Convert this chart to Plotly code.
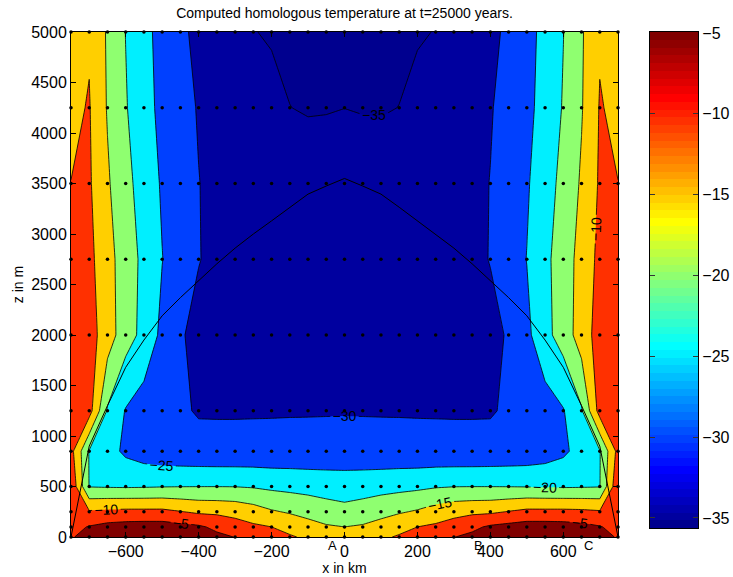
import plotly.graph_objects as go

# ---------------- data ----------------
x_nodes_km = list(range(-750, 751, 50))
z_nodes_m = [0, 100, 250, 500, 850, 1250, 2000, 2750, 3500, 4250, 5000]

# distance from centre |x| (km) for the half-profiles below (field is ~symmetric)
d_half_km = [0, 50, 100, 150, 200, 250, 300, 350, 400, 450, 500, 550, 600, 650, 700, 750]

# homologous temperature (deg C) at each grid row, for d = 0..750 km
T_z0    = [-12.5, -12.0, -10.8, -9.5, -8.0, -6.5, -5.1, -4.0, -3.0, -2.0, -1.5, -1.3, -1.5, -2.0, -3.0, -5.5]
T_z100  = [-15.0, -14.5, -13.3, -11.5, -10.0, -9.2, -8.0, -6.0, -4.3, -3.5, -2.8, -2.8, -3.0, -3.5, -4.7, -6.5]
T_z250  = [-18.5, -17.7, -16.5, -15.5, -14.5, -12.8, -11.5, -11.0, -10.8, -9.8, -8.8, -8.8, -8.8, -9.0, -9.5, -7.5]
T_z500  = [-22.5, -22.2, -21.8, -21.4, -21.0, -20.4, -20.1, -20.05, -20.05, -20.1, -20.2, -20.4, -20.5, -20.4, -20.2, -6.0]
T_z850  = [-28.0, -28.2, -28.4, -28.5, -28.7, -28.8, -28.9, -28.9, -28.8, -28.6, -28.3, -27.5, -26.0, -23.0, -20.3, -8.4]
T_z1250 = [-30.3, -30.3, -30.3, -30.3, -30.3, -30.3, -30.3, -30.3, -30.3, -29.5, -28.5, -27.3, -25.3, -20.5, -8.0, -8.0]
T_z2000 = [-33.0, -33.1, -33.1, -33.1, -33.0, -32.8, -32.5, -32.0, -31.2, -29.6, -26.2, -21.4, -17.9, -12.5, -8.0, -7.0]
T_z2750 = [-33.4, -33.4, -33.3, -33.1, -32.8, -32.4, -31.8, -31.0, -29.85, -27.4, -24.9, -21.25, -17.4, -13.3, -8.7, -8.0]
T_z3500 = [-34.0, -34.0, -33.9, -33.7, -33.4, -32.9, -32.2, -31.2, -29.9, -27.7, -25.5, -22.25, -18.5, -14.4, -9.4, -9.95]
T_z4250 = [-35.01, -35.1, -35.15, -34.98, -34.06, -33.1, -32.2, -31.24, -30.3, -28.45, -26.2, -23.3, -19.65, -15.35, -9.7, -11.0]
T_z5000 = [-35.6, -35.55, -35.5, -35.4, -35.3, -34.9, -33.7, -32.4, -31.0, -29.2, -26.6, -23.6, -20.1, -15.55, -10.5, -12.0]

# ice-sheet surface (m) for d = 0..750 km
surface_half_m = [3550, 3475, 3395, 3265, 3130, 3000, 2860, 2705, 2540, 2370, 2190, 1950, 1680, 1300, 900, 0]

contour_levels = [-35, -30, -25, -20, -15, -10, -5]
x_ticks = [-600, -400, -200, 0, 200, 400, 600]
y_ticks = [0, 500, 1000, 1500, 2000, 2500, 3000, 3500, 4000, 4500, 5000]
cbar_ticks = [-35, -30, -25, -20, -15, -10, -5]
cbar_range = [-35.62, -4.94]

marker_labels = ["A", "B", "C"]
marker_label_x = [-50, 350, 650]

# ---------------- build grid ----------------
half_rows = [T_z0, T_z100, T_z250, T_z500, T_z850, T_z1250, T_z2000, T_z2750, T_z3500, T_z4250, T_z5000]
idx = {d: i for i, d in enumerate(d_half_km)}
grid = [[row[idx[abs(x)]] for x in x_nodes_km] for row in half_rows]
surface_m = [surface_half_m[idx[abs(x)]] for x in x_nodes_km]

dot_x = [x for z in z_nodes_m for x in x_nodes_km]
dot_z = [z for z in z_nodes_m for x in x_nodes_km]

# MATLAB-like jet(64)
def jet(k):
    if k <= 8:
        r, g, b = 0, 0, 0.5 + k / 16
    elif k <= 24:
        r, g, b = 0, (k - 8) / 16, 1
    elif k <= 40:
        r, g, b = (k - 24) / 16, 1, 1 - (k - 24) / 16
    elif k <= 56:
        r, g, b = 1, 1 - (k - 40) / 16, 0
    else:
        r, g, b = 1 - (k - 56) / 16, 0, 0
    return "rgb(%d,%d,%d)" % (round(r * 255), round(g * 255), round(b * 255))

N_JET = 64
jet_scale = []
for i in range(N_JET):
    c = jet(i + 1)
    jet_scale.append([i / N_JET, c])
    jet_scale.append([(i + 1) / N_JET, c])

band_colors = ["#00008F", "#00009F", "#0040FF", "#00EFFF", "#8FFF70", "#FFCF00", "#FF3000", "#800000"]
nb = len(band_colors)
band_scale = []
for k, c in enumerate(band_colors):
    lo = max(0.0, (2 * k - 1) / (2 * (nb - 1)))
    hi = min(1.0, (2 * k + 1) / (2 * (nb - 1)))
    band_scale.append([lo, c])
    band_scale.append([hi, c])

FONT = "Liberation Sans, Arial, Helvetica, sans-serif"

# layout geometry (pixels)
W, H = 733, 577
ML, MR, MT, MB = 71, 35, 32, 40
plot_w = W - ML - MR
plot_h = H - MT - MB
main_right_px = 618
cbar_left_px, cbar_right_px, cbar_bottom_px = 650, 698, 528
letter_row_px = 545.5

fig = go.Figure()
fig.add_trace(go.Contour(
    x=x_nodes_km, y=z_nodes_m, z=grid,
    autocontour=False,
    contours=dict(start=contour_levels[0], end=contour_levels[-1], size=5,
                  coloring="fill", showlines=True, showlabels=True,
                  labelfont=dict(size=14, color="black", family=FONT)),
    line=dict(color="black", width=0.8, smoothing=0),
    colorscale=band_scale, showscale=False, hoverinfo="skip",
))
fig.add_trace(go.Scatter(x=x_nodes_km, y=surface_m, mode="lines",
                         line=dict(color="black", width=1), showlegend=False, hoverinfo="skip"))
fig.add_trace(go.Scatter(x=dot_x, y=dot_z, mode="markers",
                         marker=dict(color="black", size=3.5), cliponaxis=False,
                         showlegend=False, hoverinfo="skip"))

# colour bar drawn as a heatmap on its own axes
step = (cbar_range[1] - cbar_range[0]) / N_JET
cb_y = [cbar_range[0] + (i + 0.5) * step for i in range(N_JET)]
fig.add_trace(go.Heatmap(
    x=[0], y=cb_y, z=[[i] for i in range(N_JET)],
    zmin=-0.5, zmax=N_JET - 0.5, colorscale=jet_scale, showscale=False,
    xaxis="x2", yaxis="y2", hoverinfo="skip",
))

for lab, lx in zip(marker_labels, marker_label_x):
    fig.add_annotation(x=lx, xref="x", y=-(letter_row_px - (H - MB)) / plot_h, yref="paper",
                       text=lab, showarrow=False, xanchor="left", yanchor="middle",
                       font=dict(size=13, color="black", family=FONT))

axis_common = dict(ticks="inside", ticklen=5, tickcolor="black", showline=True, mirror="ticks",
                   linecolor="black", linewidth=1, showgrid=False, zeroline=False,
                   tickfont=dict(size=16), automargin=False)

fig.update_layout(
    width=W, height=H, autosize=False,
    margin=dict(l=ML, r=MR, t=MT, b=MB, pad=0),
    paper_bgcolor="white", plot_bgcolor="white",
    font=dict(family=FONT, color="black"),
    title=dict(text="Computed homologous temperature at t=25000 years.",
               x=344.5 / W, xref="container", xanchor="center",
               y=1 - 13 / H, yref="container", yanchor="middle",
               font=dict(size=14, color="black", family=FONT)),
    xaxis=dict(domain=[0, (main_right_px - ML) / plot_w], range=[-750, 750], tickvals=x_ticks,
               title=dict(text="x in km", font=dict(size=14), standoff=2), **axis_common),
    yaxis=dict(domain=[0, 1], range=[0, 5000], tickvals=y_ticks,
               title=dict(text="z in m", font=dict(size=14), standoff=4), **axis_common),
    xaxis2=dict(domain=[(cbar_left_px - ML) / plot_w, (cbar_right_px - ML) / plot_w],
                range=[-0.5, 0.5], anchor="y2", showticklabels=False, ticks="",
                showline=True, mirror=True, linecolor="black", linewidth=1.2,
                showgrid=False, zeroline=False, automargin=False),
    yaxis2=dict(domain=[(H - MB - cbar_bottom_px) / plot_h, 1], range=cbar_range,
                anchor="x2", side="right", tickvals=cbar_ticks,
                ticks="inside", ticklen=5, tickcolor="#333", showline=True, mirror="ticks",
                linecolor="black", linewidth=1.2, showgrid=False, zeroline=False,
                tickfont=dict(size=16), automargin=False),
    showlegend=False,
)

fig.write_html("out.html")
